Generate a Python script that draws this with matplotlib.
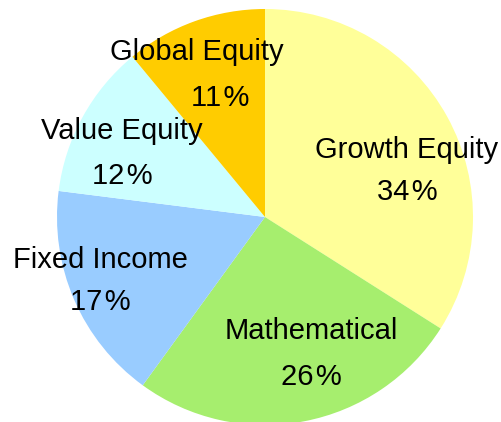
import matplotlib
matplotlib.use("Agg")
import matplotlib.pyplot as plt

categories = ["Growth Equity", "Mathematical", "Fixed Income", "Value Equity", "Global Equity"]
values = [34, 26, 17, 12, 11]
colors = ["#FFFF99", "#A6EE6E", "#99CCFF", "#CCFFFF", "#FFCC00"]

W, H = 501, 422
fig = plt.figure(figsize=(W / 100, H / 100), dpi=100)
ax = fig.add_axes([0, 0, 1, 1])

cx, cy, r = 265, 217, 208
# y axis is inverted (pixel coords), so startangle -90 points up and
# counterclock=True renders clockwise on screen
ax.pie(values, colors=colors, startangle=-90, counterclock=True, center=(cx, cy), radius=r,
       wedgeprops=dict(linewidth=0), frame=True)
ax.set_xlim(0, W)
ax.set_ylim(H, 0)
ax.axis("off")

name_pos = {"Growth Equity": (407, 150), "Mathematical": (311, 331), "Fixed Income": (100, 260),
            "Value Equity": (122, 131), "Global Equity": (197, 52)}
pct_pos = {"Growth Equity": (407, 192), "Mathematical": (311, 377), "Fixed Income": (100, 302),
           "Value Equity": (122, 176), "Global Equity": (220, 98)}
font = ["Liberation Sans", "DejaVu Sans"]
for c, v in zip(categories, values):
    x, y = name_pos[c]
    ax.text(x, y, c, ha="center", va="center", fontsize=21, family=font)
    x, y = pct_pos[c]
    ax.text(x, y, f"{v}\u200a%", ha="center", va="center", fontsize=21, family=font)

fig.savefig("out.png", dpi=100)
